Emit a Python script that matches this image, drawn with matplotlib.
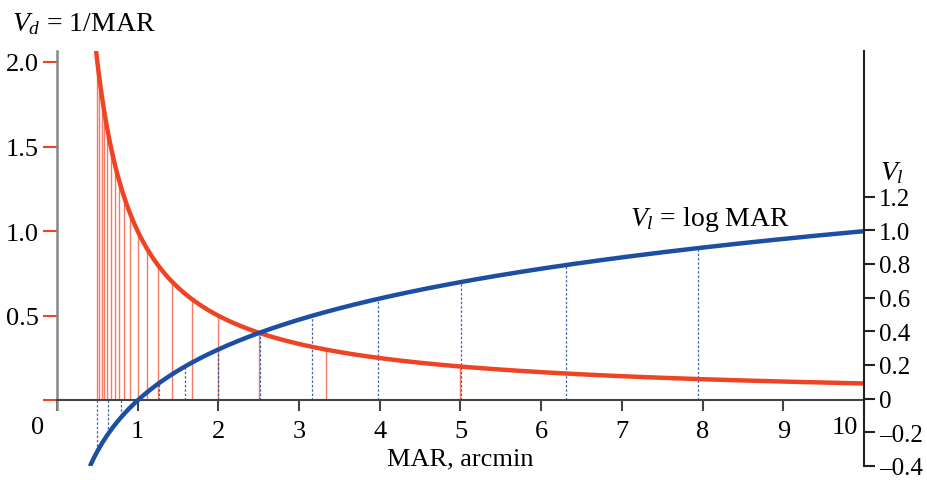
import numpy as np
import matplotlib.pyplot as plt

plt.rcParams['font.family'] = 'Liberation Serif'
plt.rcParams['mathtext.fontset'] = 'custom'
plt.rcParams['mathtext.rm'] = 'Liberation Serif'
plt.rcParams['mathtext.it'] = 'Liberation Serif:italic'

# decimal acuity steps (red lines) and logMAR steps (blue dashed lines)
decimal_steps = [2.0, 1.9, 1.8, 1.7, 1.6, 1.5, 1.4, 1.3, 1.2, 1.1,
                 1.0, 0.9, 0.8, 0.7, 0.6, 0.5, 0.4, 0.3, 0.2]
logmar_steps = [-0.3, -0.2, -0.1, 0.1, 0.2, 0.3, 0.4, 0.5, 0.6, 0.7, 0.8, 0.9]

x_ticks = [0, 1, 2, 3, 4, 5, 6, 7, 8, 9, 10]
left_ticks = [0, 0.5, 1.0, 1.5, 2.0]
left_labels = ['', '0.5', '1.0', '1.5', '2.0']
right_ticks = [-0.4, -0.2, 0, 0.2, 0.4, 0.6, 0.8, 1.0, 1.2]
right_labels = ['\u20130.4', '\u20130.2', '0', '0.2', '0.4', '0.6', '0.8', '1.0', '1.2']

red = '#ee4423'
blue = '#1c4fa3'

mar_red = np.linspace(0.484, 10, 400)
mar_blue = np.linspace(0.408, 10, 400)

fig = plt.figure(figsize=(9.28, 4.81), dpi=100)
ax = fig.add_axes([57 / 928, 14 / 481, 807 / 928, 415 / 481])
ax.set_xlim(0, 10)
ax.set_ylim(-0.388, 2.065)

# vertical step lines
for v in decimal_steps:
    ax.vlines(1 / v, 0, v, color=red, lw=1.0, alpha=0.7, zorder=2)
for l in logmar_steps:
    ax.vlines(10 ** l, 0, l, color=blue, lw=0.9, linestyles=(0, (2, 1.5)), alpha=0.85, zorder=2)

ax.plot(mar_red, 1 / mar_red, color=red, lw=3.2, zorder=4, solid_capstyle='butt')
ax.plot(mar_blue, np.log10(mar_blue), color=blue, lw=3.2, zorder=4, solid_capstyle='butt')

# spines
ax.spines['top'].set_visible(False)
ax.spines['right'].set_visible(False)
ax.spines['bottom'].set_position(('data', 0))
ax.spines['bottom'].set_color('#444444')
ax.spines['bottom'].set_linewidth(1.5)
ax.spines['left'].set_color('#888888')
ax.spines['left'].set_linewidth(1.8)
ax.spines['left'].set_bounds(-0.05, 2.065)

ax.set_xticks(x_ticks)
ax.set_xticklabels(['', '1', '2', '3', '4', '5', '6', '7', '8', '9', ''])
ax.tick_params(axis='x', direction='out', length=8, width=1.5, color='#444444',
               labelsize=19, pad=6)
ax.set_yticks(left_ticks)
ax.set_yticklabels(left_labels)
ax.tick_params(axis='y', direction='out', length=10, width=1.5, color=red,
               labelsize=19, pad=3)

ax2 = ax.twinx()
ax2.set_position(ax.get_position())
ax2.set_ylim(ax.get_ylim())
for s in ['top', 'left', 'bottom']:
    ax2.spines[s].set_visible(False)
ax2.spines['right'].set_bounds(-0.4, 2.065)
ax2.spines['right'].set_linewidth(1.5)
ax2.spines['right'].set_color('#222222')
ax2.set_yticks(right_ticks)
ax2.set_yticklabels(right_labels)
ax2.tick_params(axis='y', direction='out', length=8, width=1.5, color='#222222',
                labelsize=18, pad=3)

# text
fig.text(38 / 928, 1 - 428 / 481, '0', fontsize=19, ha='center', va='center')
fig.text(845 / 928, 1 - 428 / 481, '10', fontsize=19, ha='center', va='center')
fig.text(460 / 928, 1 - 459 / 481, 'MAR, arcmin', fontsize=19, ha='center', va='center')
fig.text(12 / 928, 1 - 31 / 481, r'$V_d$ = 1/MAR', fontsize=20, ha='left', va='baseline')
fig.text(880 / 928, 1 - 180 / 481, r'$V_l$', fontsize=20, ha='left', va='baseline')
fig.text(630 / 928, 1 - 226 / 481, r'$V_l$ = log MAR', fontsize=20, ha='left', va='baseline')

fig.savefig('out.png', dpi=100)
